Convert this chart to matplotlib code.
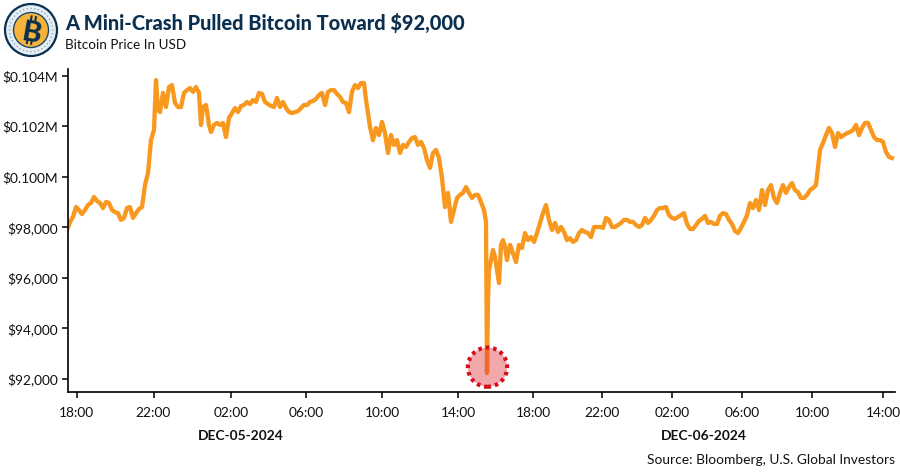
import matplotlib
matplotlib.use('Agg')
import matplotlib.pyplot as plt
from matplotlib.patches import Circle, Rectangle
import math

# bar number on the trading axis (not evenly spaced in clock time)
bars = [
    0, 3, 6, 9, 12, 15, 18, 21, 24, 27,
    30, 33, 36, 39, 42, 45, 48, 51, 54, 57,
    60, 63, 66, 69, 72, 75, 78, 81, 84, 87,
    89, 91, 93, 96, 99, 102, 105, 108, 111, 114,
    117, 120, 123, 126, 129, 132, 134, 136, 139, 142,
    144, 147, 150, 153, 156, 159, 162, 165, 168, 171,
    174, 177, 180, 183, 186, 189, 192, 195, 198, 201,
    204, 207, 210, 213, 216, 219, 222, 225, 228, 231,
    234, 237, 240, 243, 246, 249, 252, 255, 258, 261,
    264, 267, 270, 273, 276, 279, 282, 285, 288, 291,
    294, 297, 299, 301, 303, 306, 309, 312, 315, 318,
    321, 324, 327, 330, 333, 336, 339, 342, 345, 348,
    351, 354, 357, 360, 363, 366, 369, 372, 375, 378,
    381, 384, 387, 390, 393, 396, 399, 402, 405, 408,
    411, 414, 417, 419, 420, 421, 422, 424, 426, 428,
    430, 432, 434, 436, 438, 440, 443, 446, 449, 452,
    455, 458, 461, 464, 467, 470, 473, 476, 479, 482,
    485, 488, 491, 494, 497, 500, 503, 506, 509, 512,
    515, 518, 521, 524, 527, 530, 533, 536, 539, 542,
    545, 548, 551, 554, 557, 560, 563, 566, 569, 572,
    575, 578, 581, 584, 587, 590, 593, 596, 599, 602,
    605, 608, 611, 614, 617, 620, 623, 626, 629, 632,
    635, 638, 641, 644, 647, 650, 653, 656, 659, 662,
    665, 668, 671, 674, 677, 680, 683, 686, 689, 692,
    695, 698, 701, 704, 707, 710, 713, 716, 719, 722,
    725, 728, 731, 734, 737, 740, 743, 746, 749, 751,
    753, 756, 759, 762, 765, 768, 771, 774, 777, 780,
    783, 786, 789, 792, 795, 798, 801, 804, 807, 810,
    813, 816, 819, 822, 825,
]

prices = [
    97900, 98220, 98420, 98810, 98690, 98530, 98690, 98890, 98970, 99210,
    99050, 98970, 98770, 99010, 98970, 98690, 98610, 98570, 98300, 98380,
    98770, 98810, 98380, 98570, 98730, 98810, 99680, 100160, 101460, 101860,
    103840, 102650, 102570, 103330, 102770, 103560, 103640, 102930, 102770, 102770,
    103330, 103440, 103520, 103370, 103560, 103330, 102060, 102770, 102850, 102060,
    101780, 102060, 102140, 102060, 102140, 101580, 102340, 102530, 102730, 102570,
    102810, 102850, 102970, 102890, 103050, 102970, 103330, 103290, 102970, 102890,
    102810, 102770, 103130, 102770, 102970, 102730, 102570, 102530, 102570, 102610,
    102730, 102850, 102850, 102970, 103010, 103090, 103250, 103330, 102850, 103370,
    103440, 103440, 103290, 103170, 102970, 102930, 102570, 103370, 103640, 103520,
    103720, 103720, 103050, 102530, 101980, 101460, 101940, 101660, 102180, 101740,
    100950, 101660, 101270, 101460, 100950, 101270, 101190, 101390, 101540, 101580,
    101270, 101390, 101150, 100670, 100360, 100950, 101070, 100750, 99960, 98810,
    99370, 98220, 98690, 99170, 99290, 99370, 99600, 99370, 99170, 99290,
    99290, 99010, 98690, 98220, 92240, 95130, 96320, 96710, 97110, 96830,
    96320, 95800, 97310, 97500, 97230, 96710, 97310, 96990, 96630, 97310,
    97190, 97780, 97500, 97620, 97430, 97780, 98180, 98570, 98890, 98300,
    97900, 98180, 97820, 98020, 97820, 97500, 97580, 97430, 97500, 97780,
    97900, 97820, 97780, 97620, 98020, 98020, 98020, 97980, 98380, 98300,
    98020, 98020, 98100, 98180, 98300, 98300, 98220, 98220, 98100, 98020,
    98100, 98380, 98180, 98300, 98460, 98690, 98770, 98770, 98810, 98490,
    98380, 98340, 98420, 98490, 98570, 98140, 97940, 97940, 98100, 98260,
    98340, 98460, 98180, 98220, 98140, 98140, 98460, 98570, 98530, 98300,
    98140, 97860, 97780, 97980, 98220, 98490, 98970, 98770, 99090, 98690,
    99480, 98890, 99480, 99680, 99170, 98970, 99370, 99680, 99370, 99600,
    99760, 99480, 99400, 99170, 99170, 99290, 99480, 99560, 99680, 100360,
    101070, 101350, 101660, 101940, 101740, 101190, 101740, 101580, 101660, 101740,
    101780, 101860, 102060, 101660, 101940, 102140, 102140, 101860, 101580, 101460,
    101460, 101390, 100990, 100790, 100750,
]

time_ticks = [9.5, 86.5, 164, 239, 315, 391, 466, 535, 605, 675, 745.5, 816]
time_labels = ['18:00', '22:00', '02:00', '06:00', '10:00', '14:00',
               '18:00', '22:00', '02:00', '06:00', '10:00', '14:00']
price_ticks = [92000, 94000, 96000, 98000, 100000, 102000, 104000]
price_labels = ['$92,000', '$94,000', '$96,000', '$98,000',
                '$0.100M', '$0.102M', '$0.104M']
crash_bar = 420.5
crash_price = 92470

W, H = 900, 473
NAVY = '#0b2f4f'
plt.rcParams['font.family'] = ['Lato', 'DejaVu Sans']

fig = plt.figure(figsize=(W / 100, H / 100), dpi=100)
ax = fig.add_axes([67.5 / W, 1 - 391.5 / H, (895 - 67.5) / W, (391.5 - 69) / H])

ax.plot(bars, prices, color='#f9981f', lw=3.1, zorder=2)
ax.scatter([crash_bar], [crash_price], s=800, facecolor=(0.88, 0.15, 0.18, 0.4),
           edgecolor='#d0101c', linewidths=3.0, linestyle=(0, (0.85, 0.95)), zorder=3)

ax.set_xlim(0.5, 828)
ax.set_ylim(91505, 104276)
ax.set_xticks(time_ticks)
ax.set_xticklabels(time_labels)
ax.set_yticks(price_ticks)
ax.set_yticklabels(price_labels)
ax.tick_params(axis='both', labelsize=9.9, length=4, width=1.1, color='black', labelcolor='#111111')
ax.tick_params(axis='x', pad=7)
ax.tick_params(axis='y', pad=3)
ax.spines['top'].set_visible(False)
ax.spines['right'].set_visible(False)
ax.spines['left'].set_linewidth(1.2)
ax.spines['bottom'].set_linewidth(1.2)

# texts placed in pixel terms of the figure
def put(x, y, s, **kw):
    fig.text(x / W, 1 - y / H, s, va='center', **kw)

put(65, 23, 'A Mini-Crash Pulled Bitcoin Toward $92,000', fontsize=14.45, fontweight='black', color=NAVY)
put(65, 45, 'Bitcoin Price In USD', fontsize=9.7, color='#111111')
put(241, 436, 'DEC-05-2024', fontsize=9.9, fontweight='bold', ha='center', color='#111111')
put(704, 436, 'DEC-06-2024', fontsize=9.9, fontweight='bold', ha='center', color='#111111')
put(895, 460, 'Source: Bloomberg, U.S. Global Investors', fontsize=9.95, ha='right', color='#111111')

# bitcoin badge
badge = fig.add_axes([0, 1 - 64 / H, 64 / W, 64 / H])
badge.set_xlim(0, 64)
badge.set_ylim(64, 0)
badge.axis('off')
badge.add_patch(Circle((31, 30), 26, fc='#e4edf1', ec=NAVY, lw=1.6))
for k in range(36):
    a = math.radians(k * 10)
    badge.add_patch(Circle((31 + 21.5 * math.cos(a), 30 + 21.5 * math.sin(a)), 0.7, fc='#7f9db2', ec='none'))
badge.add_patch(Circle((31, 30), 17.5, fc='#f6b33c', ec='#1d4a6b', lw=1.0))
# stubs of the bitcoin sign, top and bottom of the letter
for sx in (28.2, 32.6):
    for sy, sh in ((15.5, 5), (39.5, 5)):
        badge.add_patch(Rectangle((sx, sy), 2, sh, angle=10, rotation_point=(31, 30), fc=NAVY, ec='none'))
badge.text(31.5, 30, 'B', fontsize=21, fontweight='black', color=NAVY,
           ha='center', va='center_baseline', rotation=-10)

plt.savefig('out.png', dpi=100)
plt.close()
